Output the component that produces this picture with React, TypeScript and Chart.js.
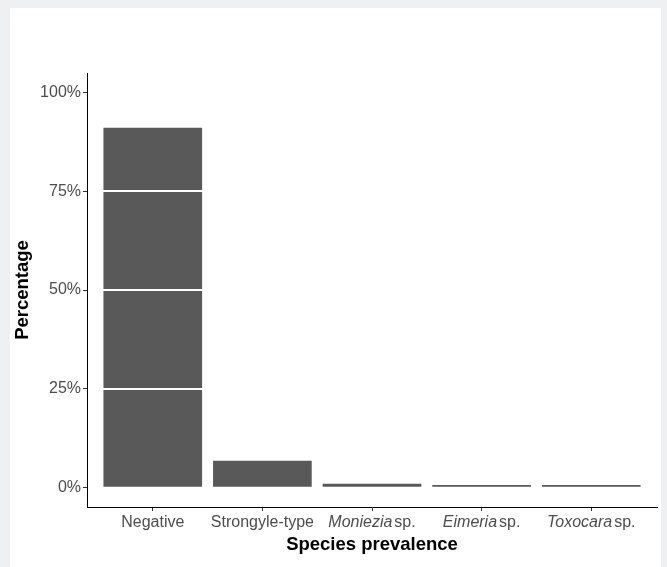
import React, { useEffect, useRef } from 'react';
import { Chart, registerables } from 'chart.js';

Chart.register(...registerables);

const categories = ['Negative', 'Strongyle-type', 'Moniezia sp.', 'Eimeria sp.', 'Toxocara sp.'];
const italicGenus = ['', '', 'Moniezia', 'Eimeria', 'Toxocara'];
const plainPart = ['Negative', 'Strongyle-type', 'sp.', 'sp.', 'sp.'];
const prevalence = [91.1, 6.7, 0.9, 0.6, 0.6];
const yTicks = [0, 25, 50, 75, 100];
const yTitle = 'Percentage';
const xTitle = 'Species prevalence';

const FONT = '"Liberation Sans", Arial, sans-serif';

const overlay = {
  id: 'overlay',
  afterDatasetsDraw(chart: any) {
    const { ctx, chartArea, scales } = chart;
    const y = scales.y;
    ctx.save();
    ctx.strokeStyle = '#ffffff';
    ctx.lineWidth = 2;
    yTicks
      .filter((v) => v > 0 && v < 100)
      .forEach((v) => {
        const py = Math.round(y.getPixelForValue(v));
        ctx.beginPath();
        ctx.moveTo(chartArea.left + 1, py);
        ctx.lineTo(chartArea.right, py);
        ctx.stroke();
      });
    ctx.restore();
  },
  afterDraw(chart: any) {
    const { ctx, chartArea, scales } = chart;
    const x = scales.x;
    ctx.save();
    ctx.fillStyle = '#4d4d4d';
    ctx.textBaseline = 'alphabetic';
    ctx.textAlign = 'left';
    const baseline = x.top + 20;
    categories.forEach((_, i) => {
      const cx = x.getPixelForValue(i);
      const it = italicGenus[i];
      const pl = plainPart[i];
      const italicFont = `italic 16px ${FONT}`;
      const plainFont = `16px ${FONT}`;
      ctx.font = italicFont;
      const wi = it ? ctx.measureText(it).width : 0;
      const gap = it ? 2 : 0;
      ctx.font = plainFont;
      const wp = ctx.measureText(pl).width;
      let sx = cx - (wi + gap + wp) / 2;
      if (it) {
        ctx.font = italicFont;
        ctx.fillText(it, sx, baseline);
        sx += wi + gap;
      }
      ctx.font = plainFont;
      ctx.fillText(pl, sx, baseline);
    });
    // axis titles
    ctx.fillStyle = '#000000';
    ctx.font = `bold 18.5px ${FONT}`;
    ctx.textAlign = 'center';
    ctx.fillText(xTitle, (chartArea.left + chartArea.right) / 2, x.top + 43);
    ctx.save();
    ctx.translate(13, (chartArea.top + chartArea.bottom) / 2);
    ctx.rotate(-Math.PI / 2);
    ctx.textBaseline = 'middle';
    ctx.fillText(yTitle, 0, 0);
    ctx.restore();
    ctx.restore();
  },
};

export default function App() {
  const ref = useRef<HTMLCanvasElement | null>(null);
  useEffect(() => {
    if (!ref.current) return;
    const chart = new Chart(ref.current, {
      type: 'bar',
      data: {
        datasets: [
          {
            data: prevalence.map((v, i) => ({ x: i, y: v })),
            backgroundColor: '#595959',
            borderWidth: 0,
            barPercentage: 0.9,
            categoryPercentage: 1.0,
          },
        ],
      },
      options: {
        animation: false,
        responsive: false,
        devicePixelRatio: 1,
        layout: { padding: { top: 65, right: 4, left: 0, bottom: 0 } },
        plugins: { legend: { display: false }, tooltip: { enabled: false } },
        scales: {
          x: {
            type: 'linear',
            min: -0.6,
            max: 4.6,
            offset: false,
            afterBuildTicks: (s: any) => {
              s.ticks = categories.map((_, i) => ({ value: i }));
            },
            afterFit: (s: any) => {
              s.height = 60;
            },
            ticks: { display: false },
            grid: {
              display: true,
              drawOnChartArea: false,
              drawTicks: true,
              tickLength: 4,
              color: '#333333',
              offset: false,
            },
            border: { display: true, color: '#000000', width: 1 },
          },
          y: {
            type: 'linear',
            min: -5,
            max: 105,
            afterBuildTicks: (s: any) => {
              s.ticks = yTicks.map((v) => ({ value: v }));
            },
            afterFit: (s: any) => {
              s.width = 77;
            },
            ticks: {
              callback: (v: any) => `${v}%`,
              color: '#4d4d4d',
              font: { family: FONT, size: 16 },
              padding: 2,
            },
            grid: {
              display: true,
              drawOnChartArea: false,
              drawTicks: true,
              tickLength: 4,
              color: '#333333',
            },
            border: { display: true, color: '#000000', width: 1 },
          },
        },
      } as any,
      plugins: [overlay],
    });
    return () => chart.destroy();
  }, []);

  return (
    <div
      style={{
        position: 'fixed',
        left: 0,
        top: 0,
        width: 667,
        height: 567,
        background: '#eff0f2',
        overflow: 'hidden',
      }}
    >
      <div
        style={{
          position: 'absolute',
          left: 10,
          top: 8,
          width: 651,
          height: 559,
          background: '#ffffff',
        }}
      >
        <canvas ref={ref} width={651} height={559} style={{ display: 'block' }} />
      </div>
    </div>
  );
}
